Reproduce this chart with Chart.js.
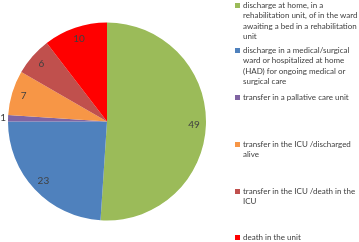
<!DOCTYPE html>
<html><head><meta charset="utf-8">
<script src="https://cdn.jsdelivr.net/npm/chart.js@4"></script>
<style>
html,body{margin:0;padding:0;background:#fff;}
#wrap{position:relative;width:359px;height:242px;overflow:hidden;}
#cv{position:absolute;left:0;top:0;}
#legend{position:absolute;left:0;top:0;width:359px;height:242px;font-family:Lato,"Open Sans",sans-serif;font-size:8px;line-height:10.3px;color:#404040;}
.item{position:absolute;left:235px;}
.sq{position:absolute;left:0;top:3px;width:5px;height:5px;}
.txt{position:absolute;left:8px;top:0;white-space:nowrap;}
</style></head>
<body><div id="wrap"><canvas id="cv" width="214" height="242"></canvas><div id="legend"></div></div>
<script>
const categories = [
  ["discharge at home, in a","rehabilitation unit, of in the ward","awaiting a bed in a rehabilitation","unit"],
  ["discharge in a medical/surgical","ward or hospitalized at home","(HAD) for ongoing medical or","surgical care"],
  ["transfer in a pallative care unit"],
  ["transfer in the ICU /discharged","alive"],
  ["transfer in the ICU /death in the","ICU"],
  ["death in the unit"]
];
const values = [49, 23, 1, 7, 6, 10];
const colors = ["#9BBB59","#4F81BD","#8064A2","#F79646","#C0504D","#FF0000"];
const legendY = [0, 45, 92, 139, 186, 232];

const labelPlugin = {
  id:'vals',
  afterDatasetsDraw(chart){
    const ctx = chart.ctx;
    const meta = chart.getDatasetMeta(0);
    ctx.save();
    ctx.font = '10px Lato, "Open Sans", sans-serif';
    ctx.fillStyle = '#404040';
    ctx.textAlign = 'center';
    ctx.textBaseline = 'middle';
    meta.data.forEach((arc,i)=>{
      const p = arc.getProps(['x','y','startAngle','endAngle','outerRadius'],true);
      const mid = (p.startAngle+p.endAngle)/2;
      const f = values[i] < 3 ? 1.05 : 0.88;
      const r = p.outerRadius*f;
      ctx.fillText(String(values[i]), p.x+Math.cos(mid)*r, p.y+Math.sin(mid)*r);
    });
    ctx.restore();
  }
};

new Chart(document.getElementById('cv'),{
  type:'pie',
  data:{labels:categories.map(c=>c.join(' ')),datasets:[{data:values,backgroundColor:colors,borderWidth:0}]},
  options:{
    responsive:false,animation:false,
    layout:{padding:{left:8,right:8,top:22,bottom:21}},
    plugins:{legend:{display:false},tooltip:{enabled:false}}
  },
  plugins:[labelPlugin]
});

const lg = document.getElementById('legend');
categories.forEach((lines,i)=>{
  const it = document.createElement('div');
  it.className='item';
  it.style.top = legendY[i]+'px';
  const sq = document.createElement('div'); sq.className='sq'; sq.style.background=colors[i];
  const tx = document.createElement('div'); tx.className='txt'; tx.innerHTML = lines.map(l=>l.replace(/&/g,'&amp;').replace(/</g,'&lt;')).join('<br>');
  it.appendChild(sq); it.appendChild(tx); lg.appendChild(it);
});
</script></body></html>
